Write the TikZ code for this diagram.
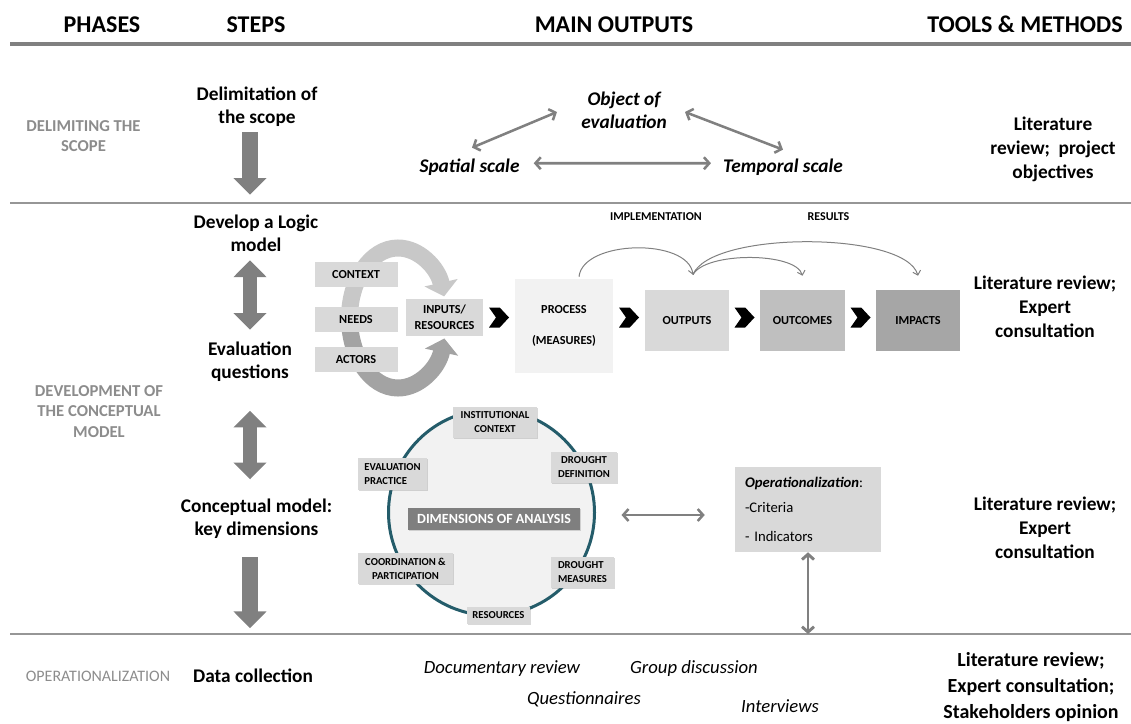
\documentclass[tikz,border=0pt]{standalone}
\usepackage{fontspec}
\setmainfont{Carlito}
\usetikzlibrary{arrows.meta,calc,shadows}
\definecolor{txtgrey}{RGB}{140,140,140}
\definecolor{arrgrey}{RGB}{128,128,128}
\definecolor{rulegrey}{RGB}{150,150,150}
\definecolor{boxgrey}{RGB}{217,217,217}
\definecolor{palegrey}{RGB}{242,242,242}
\definecolor{midgrey}{RGB}{191,191,191}
\definecolor{darkgrey}{RGB}{166,166,166}
\definecolor{dimgrey}{RGB}{127,127,127}
\definecolor{ringteal}{RGB}{36,92,106}
\definecolor{loopup}{RGB}{200,200,200}
\definecolor{looplow}{RGB}{163,163,163}

\begin{document}
\begin{tikzpicture}[x=0.75pt,y=-0.75pt,
  hdr/.style={font=\fontsize{18}{21}\selectfont\bfseries, anchor=base, inner sep=0},
  phase/.style={font=\fontsize{12.5}{15.4}\selectfont\bfseries, text=txtgrey, align=center, inner sep=0},
  stepbox/.style={font=\fontsize{14.5}{17.5}\selectfont\bfseries, align=center, inner sep=0},
  scopetxt/.style={font=\fontsize{14.5}{17.5}\selectfont\bfseries\itshape, align=center, inner sep=0},
  tooltxt/.style={font=\fontsize{14.5}{18}\selectfont\bfseries, align=center, inner sep=0},
  method/.style={font=\fontsize{14}{17}\selectfont\itshape, anchor=base, inner sep=0},
  lmlabel/.style={font=\fontsize{9}{11}\selectfont\bfseries, anchor=base, inner sep=0},
  lmbox/.style={fill=boxgrey, inner sep=0, align=center, font=\fontsize{9.2}{12}\selectfont\bfseries},
  dimbox/.style={fill=boxgrey, inner sep=0, align=center, font=\fontsize{8}{10.5}\selectfont\bfseries,
    drop shadow={shadow xshift=0.9pt, shadow yshift=-0.9pt, opacity=0.3}},
  boxsize/.style n args={2}{minimum width=#1, minimum height=#2},
  bigarrow/.style={draw=arrgrey, line width=12pt, -{Triangle[width=24pt,length=12.5pt]}},
  bigdouble/.style={draw=arrgrey, line width=11pt, {Triangle[width=24pt,length=12.5pt]}-{Triangle[width=24pt,length=12.5pt]}},
  linkarrow/.style={draw=arrgrey, line width=1.9pt, {Straight Barb[length=4pt,width=9pt]}-{Straight Barb[length=4pt,width=9pt]}},
  flowarc/.style={draw=arrgrey, line width=0.75pt, -{Straight Barb[length=3pt,width=6pt]}},
  looparrow/.style={line width=12.75pt, -{Triangle[width=25pt,length=10.5pt]}},
  rule/.style={draw=rulegrey, line width=1.5pt},
  chevron/.pic={\fill[black] (-10,-10) -- (0.7,-10) -- (10,0) -- (0.7,10) -- (-10,10) -- (-3,0) -- cycle;}
]
\useasboundingbox (0,0) rectangle (1131,724);

% column headers
\node[hdr] (hphases) at (102,33) {PHASES};
\node[hdr] (hsteps) at (256,33) {STEPS};
\node[hdr] (houtputs) at (614,33) {MAIN OUTPUTS};
\node[hdr] (htools) at (1025,33) {TOOLS \& METHODS};

% horizontal rules between the phases
\coordinate (ruleAl) at (10,44);  \coordinate (ruleAr) at (1131,44);
\coordinate (ruleBl) at (10,203); \coordinate (ruleBr) at (1131,203);
\coordinate (ruleCl) at (10,634); \coordinate (ruleCr) at (1131,634);
\draw[rule, draw=arrgrey, line width=2.6pt] (ruleAl) -- (ruleAr);
\draw[rule] (ruleBl) -- (ruleBr);
\draw[rule] (ruleCl) -- (ruleCr);

% phases
\node[phase] (phscope) at (83.5,136) {DELIMITING THE\\SCOPE};
\node[phase] (phconcept) at (99,411.5) {DEVELOPMENT OF\\THE CONCEPTUAL\\MODEL};
\node[phase, font=\fontsize{12}{14}\selectfont, anchor=base] (phoper) at (98,681) {OPERATIONALIZATION};

% steps
\coordinate (stepaxis) at (250,0);
\node[stepbox] (delim) at (257,107) {Delimitation of\\the scope};
\node[stepbox] (develop) at (256,233.3) {Develop a Logic\\model};
\node[stepbox] (evalq) at (250,362) {Evaluation\\questions};
\node[stepbox] (concept) at (256.5,519) {Conceptual model:\\key dimensions};
\node[stepbox, anchor=base] (datacol) at (253,682) {Data collection};

\draw[bigarrow, shorten <=3.75pt, shorten >=14.8pt] (delim.south -| stepaxis) -- (develop.north -| stepaxis);
\draw[bigdouble, shorten <=6.2pt, shorten >=9pt] (develop.south -| stepaxis) -- (evalq.north -| stepaxis);
\draw[bigdouble, shorten <=21.4pt, shorten >=14.6pt] (evalq.south -| stepaxis) -- (concept.north -| stepaxis);
\draw[bigarrow, shorten <=13.5pt, shorten >=30pt] (concept.south -| stepaxis) -- (datacol.north -| stepaxis);

% scope of the evaluation
\node[scopetxt] (object) at (624,110.5) {Object of\\evaluation};
\node[scopetxt, anchor=base] (spatial) at (469.5,172) {Spatial scale};
\node[scopetxt, anchor=base] (temporal) at (783,172) {Temporal scale};
\draw[linkarrow] ($(spatial.north)+(2.5,-10.5)$) -- ($(object.west)+(-24,1.5)$);
\draw[linkarrow] ($(object.east)+(18,1.5)$) -- ($(temporal.north)+(0,-8.5)$);
\draw[linkarrow] ($(spatial.east)+(14,-3.5)$) -- ($(temporal.west)+(-12,-3.5)$);

% tools and methods
\node[tooltxt] (tscope) at (1053,149) {Literature\\review;~ project\\objectives};
\node[tooltxt] (tlogic) at (1045,306.5) {Literature review;\\Expert\\consultation};
\node[tooltxt] (tconcept) at (1045,528) {Literature review;\\Expert\\consultation};
\node[tooltxt, font=\fontsize{15}{19.5}\selectfont\bfseries] (tdata) at (1031,687) {Literature review;\\Expert consultation;\\Stakeholders opinion};

% data collection methods
\node[method] (mdoc) at (502,673) {Documentary review};
\node[method] (mgroup) at (694,673) {Group discussion};
\node[method] (mquest) at (584,704) {Questionnaires};
\node[method] (minter) at (780,712) {Interviews};

% logic model
\node[lmlabel] (limpl) at (656,220) {IMPLEMENTATION};
\node[lmlabel] (lres) at (828.5,220) {RESULTS};

\coordinate (loopc) at (398,318);
\draw[looparrow, draw=looplow] (loopc) ++(180:48.5 and 70) arc[start angle=180, end angle=17, x radius=48.5, y radius=70];
\draw[looparrow, draw=loopup] (loopc) ++(180:48.5 and 70) arc[start angle=180, end angle=342, x radius=48.5, y radius=70];

\node[lmbox, boxsize={62.25pt}{18.75pt}] (context) at (356,274.5) {CONTEXT};
\node[lmbox, boxsize={62.25pt}{18.75pt}] (needs) at (356,319.5) {NEEDS};
\node[lmbox, boxsize={62.25pt}{18.75pt}] (actors) at (356,359.5) {ACTORS};
\node[lmbox, boxsize={57.75pt}{27.75pt}] (inputs) at (444.5,317.5) {INPUTS/\\RESOURCES};
\node[lmbox, fill=palegrey, boxsize={73.5pt}{70.5pt}] (process) at (564,326) {PROCESS\\[11pt](MEASURES)};
\node[lmbox, boxsize={63pt}{45.75pt}] (outputs) at (687,320.5) {OUTPUTS};
\node[lmbox, fill=midgrey, boxsize={63.75pt}{45.75pt}] (outcomes) at (802.5,320.5) {OUTCOMES};
\node[lmbox, fill=darkgrey, boxsize={63pt}{45.75pt}] (impacts) at (918,320.5) {IMPACTS};

\path (inputs.east) -- (inputs.east -| process.west) coordinate[midway] (chA);
\path (inputs.east -| process.east) -- (inputs.east -| outputs.west) coordinate[midway] (chB);
\path (inputs.east -| outputs.east) -- (inputs.east -| outcomes.west) coordinate[midway] (chC);
\path (inputs.east -| outcomes.east) -- (inputs.east -| impacts.west) coordinate[midway] (chD);
\pic at (chA) {chevron};
\pic at (chB) {chevron};
\pic at (chC) {chevron};
\pic at (chD) {chevron};

\coordinate (fork) at ([xshift=4.5pt,yshift=11.25pt]outputs.north);
\draw[flowarc] ([xshift=11.25pt,yshift=1.5pt]process.north) .. controls +(4,-37) and +(-5,-37) .. (fork);
\draw[flowarc] (fork) .. controls +(12,-23) and +(-7,-24) .. ([yshift=10.5pt]outcomes.north);
\draw[flowarc] (fork) .. controls +(17,-44) and +(-13,-45) .. ([yshift=10.5pt]impacts.north);

% dimensions of analysis
\node[circle, draw=ringteal, line width=2.25pt, fill=palegrey, minimum size=154.5pt, inner sep=0] (ring) at (491.5,512.5) {};
\node[dimbox, boxsize={63pt}{23.25pt}] (inst) at (495,422.5) {INSTITUTIONAL\\CONTEXT};
\node[dimbox, boxsize={49.5pt}{23.25pt}] (ddef) at (584,467.5) {DROUGHT\\DEFINITION};
\node[dimbox, boxsize={51.75pt}{24pt}, align=left] (evprac) at (392.5,474) {EVALUATION\\PRACTICE};
\node[dimbox, fill=dimgrey, text=white, font=\fontsize{10.5}{12}\selectfont\bfseries, boxsize={129pt}{16.5pt}] (dims) at (494,519) {DIMENSIONS OF ANALYSIS};
\node[dimbox, boxsize={71.25pt}{23.25pt}] (coord) at (405.5,568.5) {COORDINATION \&\\PARTICIPATION};
\node[dimbox, boxsize={47.25pt}{23.25pt}, align=left] (dmeas) at (582.5,572.5) {DROUGHT\\MEASURES};
\node[dimbox, boxsize={47.25pt}{12.75pt}] (res) at (498.5,615.5) {RESOURCES};

% operationalization
\node[fill=boxgrey, inner xsep=7.5pt, inner ysep=0pt, text width=94.5pt, minimum height=63.75pt, align=left,
  font=\fontsize{11}{18.75}\selectfont] (opera) at (808,509.5)
  {\textbf{\textit{Operationalization}}:\\-Criteria\\[3pt]- Indicators};
\draw[linkarrow] ($(ring.east)+(25.5,2.5)$) -- ($(ring.east -| opera.west)+(-30,2.5)$);
\draw[linkarrow, line width=2.2pt] (opera.south) -- (opera.south |- ruleCl);

\end{tikzpicture}
\end{document}
